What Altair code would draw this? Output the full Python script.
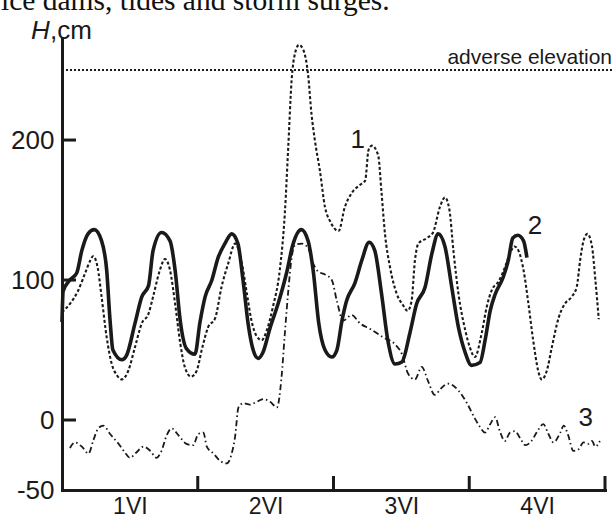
import altair as alt
import pandas as pd

# ---- data (hours from start of 1 VI, level in cm) ----
s1_h = [0, 1.4, 2.8, 4.1, 5.0, 5.5, 6.3, 7.0, 7.9, 8.8,
        9.7, 10.6, 11.7, 12.9, 14.1, 15.3, 16.1, 17.3, 18.2, 19.1,
        20.0, 20.9, 21.7, 22.8, 23.8, 24.7, 25.8, 27.1, 28.2, 29.4,
        30.6, 31.8, 32.7, 33.5, 34.4, 35.3, 36.2, 37.3, 38.5, 39.4,
        40.0, 40.6, 41.2, 41.9, 42.7, 43.5, 44.1, 44.7, 45.6, 46.5,
        47.4, 48.9, 50.0, 51.2, 52.7, 53.6, 54.2, 54.8, 55.9, 56.5,
        57.1, 58.0, 59.2, 60.3, 61.1, 61.8, 62.4, 63.0, 64.5, 65.6,
        66.8, 67.7, 68.5, 69.2, 70.1, 71.3, 72.1, 73.0, 74.2, 75.1,
        76.0, 77.2, 78.3, 79.2, 80.0, 80.7, 81.6, 82.4, 83.3, 84.2,
        84.8, 85.7, 86.6, 87.8, 88.9, 90.1, 91.0, 91.6, 92.2, 92.9,
        93.7, 94.3, 94.9]
s1_v = [77, 83, 92, 105, 114, 117, 109, 88, 59, 40,
        32, 29, 35, 52, 69, 76, 88, 107, 115, 107,
        83, 55, 38, 31, 35, 50, 66, 73, 95, 112,
        126, 112, 90, 71, 60, 57, 64, 81, 107, 148,
        195, 243, 262, 268, 264, 247, 219, 200, 178, 152,
        142, 135, 152, 162, 168, 171, 193, 196, 189, 162,
        133, 109, 90, 82, 78, 85, 114, 126, 130, 134,
        152, 159, 150, 121, 90, 64, 52, 45, 62, 81,
        93, 99, 109, 119, 124, 121, 107, 85, 57, 35,
        29, 35, 52, 73, 83, 88, 95, 114, 128, 133,
        124, 100, 72]

s2_h = [0, 0.2, 1.4, 2.6, 3.5, 4.6, 5.7, 7.0, 7.9, 8.5,
        9.0, 10.6, 11.4, 12.9, 14.1, 15.3, 16.1, 17.6, 19.1, 20.0,
        20.9, 22.0, 23.5, 24.4, 25.3, 26.5, 27.6, 28.8, 30.0, 31.1,
        32.0, 32.9, 33.8, 34.7, 35.5, 36.8, 38.2, 39.7, 40.8, 42.3,
        43.5, 44.4, 45.4, 46.5, 47.7, 48.6, 49.5, 50.3, 51.8, 53.0,
        54.3, 55.3, 56.5, 57.6, 58.9, 60.1, 61.5, 62.7, 64.2, 65.4,
        66.5, 67.7, 68.9, 70.1, 71.3, 72.4, 73.9, 74.8, 75.7, 76.6,
        78.0, 78.9, 79.7, 80.6, 81.6, 82.2]
s2_v = [70, 92, 100, 105, 121, 133, 136, 128, 107, 71,
        50, 43, 46, 69, 88, 96, 121, 134, 128, 107,
        71, 51, 47, 70, 88, 100, 116, 126, 133, 126,
        100, 69, 50, 44, 48, 66, 83, 105, 125, 136,
        128, 107, 69, 50, 45, 50, 71, 85, 98, 114,
        127, 121, 90, 57, 40, 41.5, 62, 83, 95, 119,
        133, 124, 95, 66, 48, 39, 41, 57, 78, 90,
        102, 114, 130, 132, 128, 116]

s3_h = [1.4, 2.3, 3.5, 4.7, 5.5, 6.4, 7.3, 8.5, 10.0, 11.1,
        12.0, 13.2, 14.4, 15.6, 16.7, 17.6, 18.5, 19.4, 20.6, 22.0,
        23.2, 24.1, 25.0, 25.6, 26.8, 27.9, 29.1, 30.0, 30.6, 31.2,
        32.1, 33.2, 34.4, 35.6, 36.8, 38.0, 38.8, 39.4, 40.0, 40.6,
        41.2, 42.4, 43.5, 44.4, 45.3, 46.5, 47.7, 48.6, 49.7, 51.2,
        52.7, 54.5, 56.8, 58.9, 60.1, 61.2, 62.4, 63.6, 64.7, 65.9,
        67.1, 68.2, 70.1, 71.6, 73.0, 73.9, 74.8, 75.7, 76.6, 77.4,
        78.3, 79.2, 80.1, 81.0, 81.9, 83.0, 83.9, 85.1, 86.0, 86.9,
        88.1, 88.7, 89.5, 90.4, 91.3, 92.2, 93.1, 93.7, 94.3, 95.1]
s3_v = [-20, -16, -19, -24, -15, -6, -4, -10, -17, -23,
        -27, -23, -19, -22, -27, -22, -11, -6, -11, -17,
        -18, -10, -9, -19, -24, -29, -31, -24, -12, 9,
        12, 11, 13, 15, 13, 9, 30, 62, 92, 116,
        125, 126, 123, 112, 106, 104, 100, 85, 71, 75,
        69, 65, 59, 54, 47, 33, 29, 38, 28, 18,
        23, 26, 21, 12, 1, -5, -9, -3, 2, -8,
        -15, -9, -8, -13, -18, -15, -9, -3, -10, -16,
        -9, -4, -11, -22, -21, -16, -17, -15, -19, -15]

day_labels = ["1VI", "2VI", "3VI", "4VI"]
day_label_pos = [12, 36, 60, 84]
day_ticks = [24, 48, 72, 96]
y_tick_values = [-50, 0, 100, 200]
y_inner_ticks = [0, 100, 200]
adverse_level = [250]
series_names = ["1", "2", "3"]
series_name_h = [52.3, 83.6, 92.6]
series_name_v = [194.6, 133, -4]

# ---- layout ----
W, H = 543, 452
INK = "#1a1a1a"
SANS = "Liberation Sans"
xs = alt.Scale(domain=[0, 96], nice=False, zero=False)
ys = alt.Scale(domain=[-50, 272.9], nice=False, zero=False)

label_expr = "[" + ",".join("'%s'" % d for d in day_labels) + "][floor(datum.value/24)]"
xaxis = alt.Axis(values=day_label_pos, labelExpr=label_expr,
                 ticks=False, grid=False, title=None,
                 domainWidth=3, domainColor=INK, domainCap="square",
                 labelFont=SANS, labelFontSize=23, labelColor=INK,
                 labelPadding=5, labelAngle=0, labelFlush=False, labelOverlap=False)
yaxis = alt.Axis(values=y_tick_values, labelExpr="'' + datum.value",
                 ticks=False, grid=False, title=None,
                 domainWidth=3, domainColor=INK, domainCap="square",
                 labelFont=SANS, labelFontSize=26, labelColor=INK,
                 labelPadding=8, labelFlush=False, labelOverlap=False)

X = lambda: alt.X("h:Q", scale=xs, axis=xaxis)
Y = lambda: alt.Y("v:Q", scale=ys, axis=yaxis)


def series(h, v, dash, width):
    df = pd.DataFrame({"h": h, "v": v})
    kw = {"strokeDash": dash} if dash else {}
    return alt.Chart(df).mark_line(interpolate="monotone", color=INK,
                                   strokeWidth=width, **kw).encode(
        x=X(), y=Y(), order="h:Q")


line2 = series(s2_h, s2_v, None, 3.6)
line1 = series(s1_h, s1_v, [3, 2.2], 2.1)
line3 = series(s3_h, s3_v, [6, 3, 1.5, 3], 1.8)

xt = alt.Chart(pd.DataFrame({"h": day_ticks})).mark_rule(color=INK, strokeWidth=3).encode(
    x=X(), y=alt.value(H), y2=alt.value(H - 14))
yt = alt.Chart(pd.DataFrame({"v": y_inner_ticks})).mark_rule(color=INK, strokeWidth=3).encode(
    y=Y(), x=alt.value(0), x2=alt.value(14))

adv_df = pd.DataFrame({"v": adverse_level, "t": ["adverse elevation"]})
adv_line = alt.Chart(adv_df).mark_rule(color=INK, strokeWidth=2, strokeDash=[2, 2]).encode(
    y=Y(), x=alt.value(0), x2=alt.value(552))
adv_text = alt.Chart(adv_df).mark_text(align="right", baseline="alphabetic", dy=-6,
                                       font=SANS, fontSize=21, color=INK).encode(
    y=Y(), x=alt.value(550), text="t:N")

names = alt.Chart(pd.DataFrame({"h": series_name_h, "v": series_name_v, "t": series_names})).mark_text(
    align="center", baseline="alphabetic", font=SANS, fontSize=26, color=INK).encode(
    x=X(), y=Y(), text="t:N")

one = pd.DataFrame({"k": [0]})
h_ital = alt.Chart(one).mark_text(text="H", align="left", baseline="alphabetic", font=SANS,
                                  fontSize=26, fontStyle="italic", color=INK).encode(
    x=alt.value(-31), y=alt.value(1))
h_unit = alt.Chart(one).mark_text(text=",cm", align="left", baseline="alphabetic", font=SANS,
                                  fontSize=26, color=INK).encode(
    x=alt.value(-12), y=alt.value(1))
caption = alt.Chart(one).mark_text(text="ice dams, tides and storm surges.", align="left",
                                   baseline="alphabetic", font="Liberation Serif",
                                   fontSize=29.5, color="#111111").encode(
    x=alt.value(-61), y=alt.value(-28))

chart = alt.layer(line2, line1, line3, xt, yt, adv_line, adv_text, names,
                  h_ital, h_unit, caption).properties(
    width=W, height=H,
    autosize=alt.AutoSizeParams(type="none"),
    padding={"left": 62, "top": 38, "right": 9, "bottom": 29},
    background="white",
).configure_view(strokeWidth=0)

chart.save("out.html", embed_options={"renderer": "svg", "actions": False})
